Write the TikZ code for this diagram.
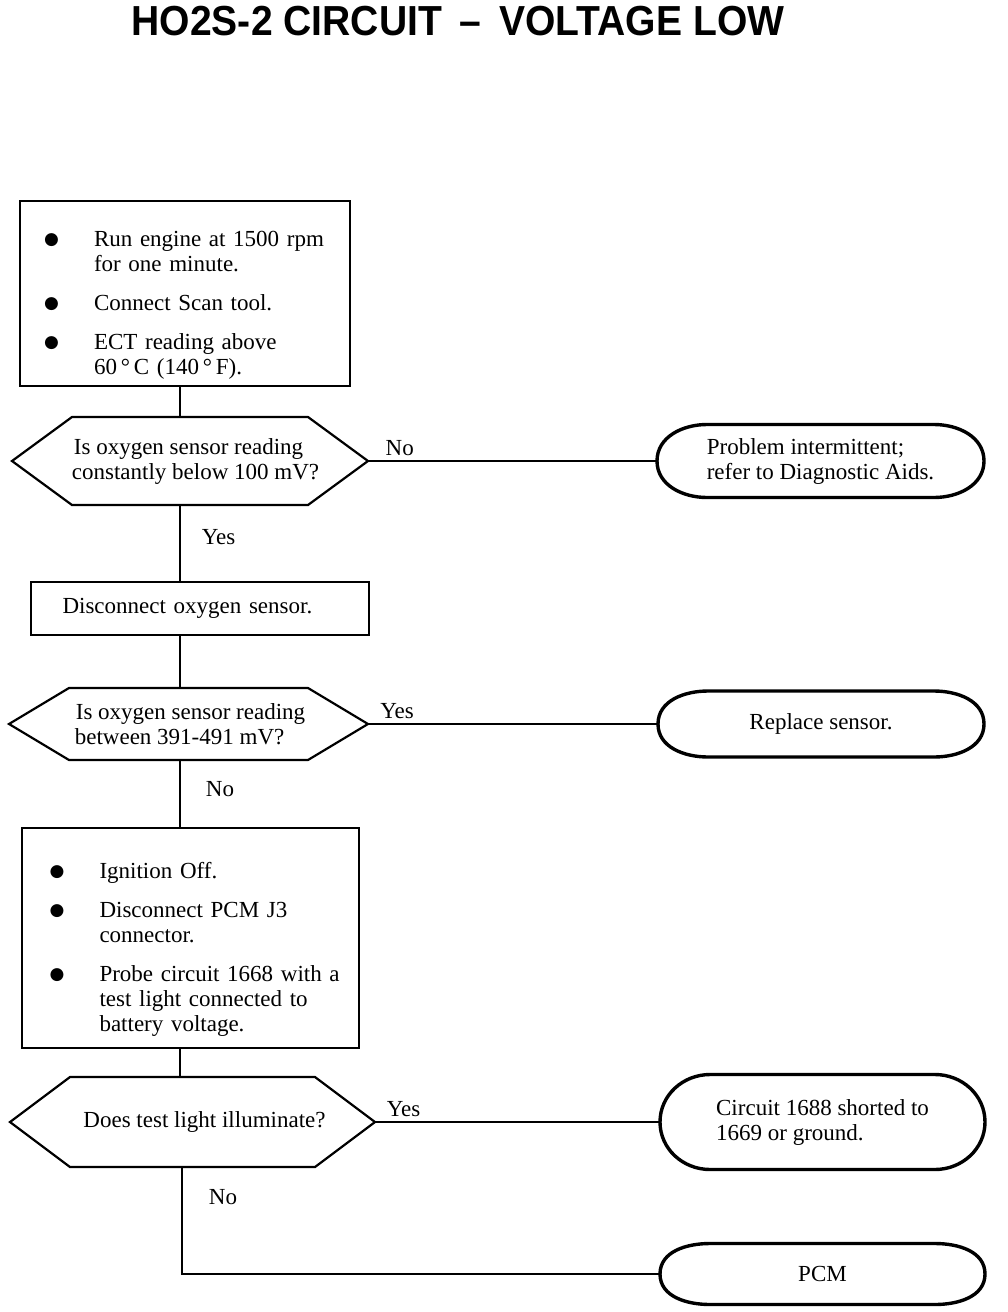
\documentclass[tikz,border=0pt]{standalone}
\usepackage{fontspec}
\setmainfont{Liberation Serif}
\newfontfamily\titlefont[FakeStretch=0.93]{Liberation Sans}
\newfontfamily\dotfont{DejaVu Sans}
\usetikzlibrary{positioning}

% one bulleted step inside a box
\newcommand{\bitem}[1]{\par\raggedright\hangindent=64pt\hangafter=1\noindent
  \makebox[64pt][l]{\hspace{14pt}\raisebox{2pt}{\dotfont\fontsize{17}{17}\selectfont ●}}#1\par}
% six-sided frame round a decision node
\newcommand{\hexframe}[1]{\draw[hexline] (#1.west) -- ([xshift=60pt]#1.north west)
  -- ([xshift=-60pt]#1.north east) -- (#1.east) -- ([xshift=-60pt]#1.south east)
  -- ([xshift=60pt]#1.south west) -- cycle;}
% oval frame round an outcome node
\newcommand{\ovalframe}[1]{\draw[ovalline] (#1.west) to[out=90,in=180] ([xshift=50pt]#1.north west)
  -- ([xshift=-50pt]#1.north east) to[out=0,in=90] (#1.east)
  to[out=-90,in=0] ([xshift=-50pt]#1.south east) -- ([xshift=50pt]#1.south west)
  to[out=180,in=-90] (#1.west) -- cycle;}

\begin{document}
\begin{tikzpicture}[
    x=1pt, y=-1pt,
    font=\fontsize{23}{25}\selectfont,
    stepbox/.style  = {rectangle, draw, line width=1.6pt, outer sep=0pt,
                       inner sep=0pt, text width=310pt,
                       execute at begin node={\setlength{\parskip}{14pt}}},
    decision/.style = {rectangle, outer sep=0pt, inner sep=0pt, align=left},
    hexline/.style  = {line width=2.2pt, line join=miter},
    endbox/.style   = {rectangle, outer sep=0pt, inner sep=0pt, align=left},
    ovalline/.style = {line width=3.4pt},
    conn/.style     = {line width=1.8pt},
    lbl/.style      = {inner sep=4pt}
  ]
  \useasboundingbox (0,0) rectangle (1008,1312);

  % ── Title ───────────────────────────────────────────────────
  \node (ttl) at (458,21) {\titlefont\bfseries\fontsize{42}{42}\selectfont
    HO2S-2 CIRCUIT \,–\, VOLTAGE LOW};

  % ── Main column ─────────────────────────────────────────────
  \coordinate (spine) at (180,0);
  \coordinate (spinelow) at (182,0);

  \node[stepbox, minimum width=330pt, minimum height=185pt] (b1) at (185,293.5) {%
    \bitem{Run engine at 1500 rpm\newline for one minute.}
    \bitem{Connect Scan tool.}
    \bitem{ECT reading above\newline 60\,°\,C (140\,°\,F).}};
  \node[decision, minimum width=356pt, minimum height=88pt]
        (d1) [below=31pt of b1, xshift=5pt]
        {\hspace*{13pt}Is oxygen sensor reading\\\hspace*{11pt}constantly below 100 mV?};
  \node[stepbox, minimum width=338pt, minimum height=53pt, text width=275pt]
        (b2) [below=77pt of d1, xshift=10pt] {Disconnect oxygen sensor.};
  \node[decision, minimum width=359pt, minimum height=72pt]
        (d2) [below=53pt of b2, xshift=-11.5pt]
        {\hspace*{4pt}Is oxygen sensor reading\\\hspace*{3pt}between 391-491 mV?};
  \node[stepbox, minimum width=337pt, minimum height=220pt]
        (b3) [below=68pt of d2, xshift=2pt] {%
    \bitem{Ignition Off.}
    \bitem{Disconnect PCM J3\newline connector.}
    \bitem{Probe circuit 1668 with a\newline test light connected to\newline battery voltage.}};
  \node[decision, minimum width=365pt, minimum height=90pt]
        (d3) [below=29pt of b3, xshift=2pt] {\hspace*{24pt}Does test light illuminate?};

  \hexframe{d1}
  \hexframe{d2}
  \hexframe{d3}

  % ── Right column: outcomes ──────────────────────────────────
  \node[endbox, minimum width=327pt, minimum height=73pt]
        (e1) [right=289pt of d1] {Problem intermittent;\\refer to Diagnostic Aids.};
  \node[endbox, minimum width=326pt, minimum height=66pt]
        (e2) [right=290pt of d2] {Replace sensor.};
  \node[endbox, minimum width=325pt, minimum height=95pt]
        (e3) [right=285pt of d3] {Circuit 1688 shorted to\\1669 or ground.};
  \node[endbox, minimum width=325pt, minimum height=61pt]
        (e4) [below=74pt of e3] {PCM};

  \ovalframe{e1}
  \ovalframe{e2}
  \ovalframe{e3}
  \ovalframe{e4}

  % ── Connectors ──────────────────────────────────────────────
  \draw[conn] (b1.south -| spine) -- (d1.north -| spine);
  \draw[conn] (d1.east) -- node[lbl, above, pos=0.11]{No} (e1.west);
  \draw[conn] (d1.south -| spine) -- node[lbl, right, pos=0.42, xshift=17pt]{Yes} (b2.north -| spine);
  \draw[conn] (b2.south -| spine) -- (d2.north -| spine);
  \draw[conn] (d2.east) -- node[lbl, above, pos=0.1]{Yes} (e2.west);
  \draw[conn] (d2.south -| spine) -- node[lbl, right, pos=0.43, xshift=21pt]{No} (b3.north -| spine);
  \draw[conn] (b3.south -| spine) -- (d3.north -| spine);
  \draw[conn] (d3.east) -- node[lbl, above, pos=0.1]{Yes} (e3.west);
  \draw[conn] (d3.south -| spinelow) |- node[lbl, right, pos=0.14, xshift=22pt]{No} (e4.west);

\end{tikzpicture}
\end{document}
